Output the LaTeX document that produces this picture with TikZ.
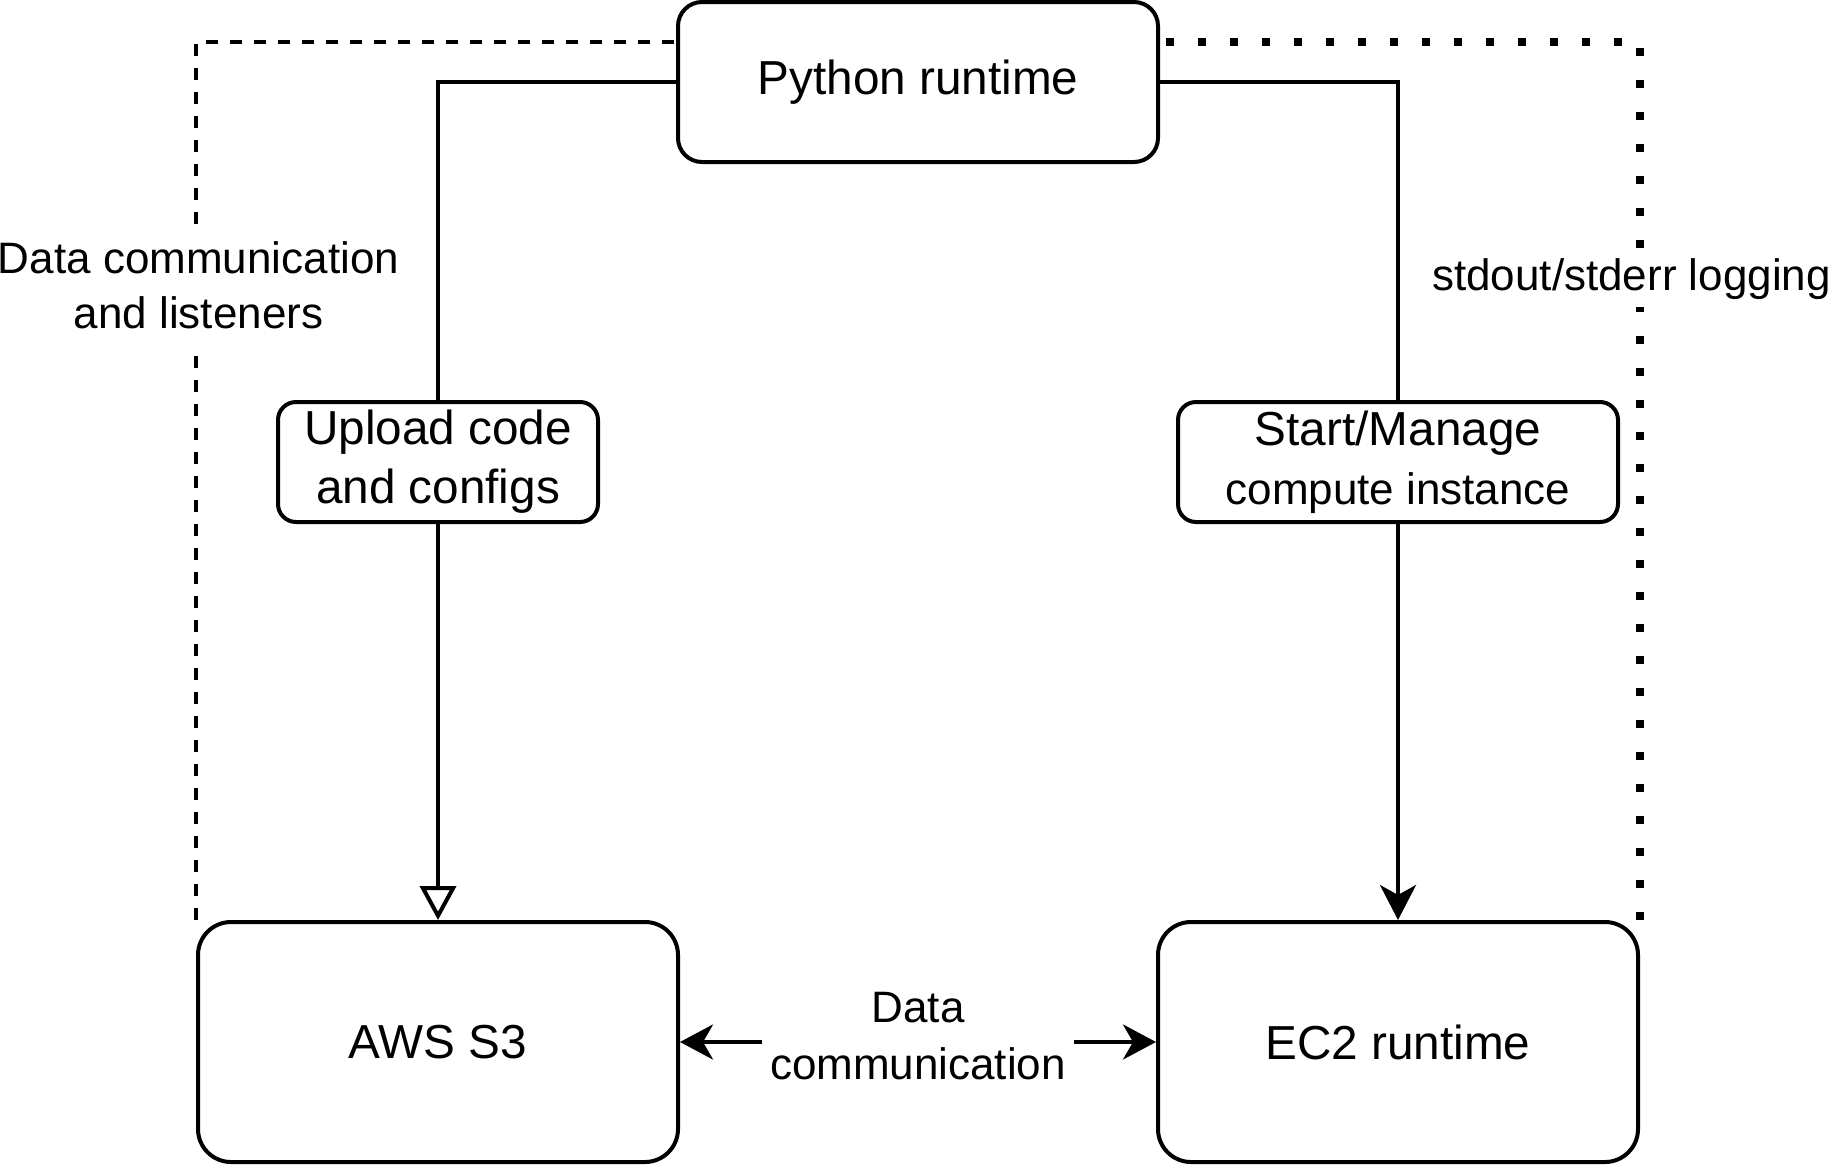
\documentclass[tikz,border=0pt]{standalone}
\usepackage{fontspec}
\setmainfont{Liberation Sans}
\usetikzlibrary{arrows.meta}
\begin{document}
\begin{tikzpicture}[x=1pt,y=-1pt,line width=4pt,
  box/.style={draw,rounded corners=#1,align=center,inner sep=0pt},
  mainfont/.style={font=\fontsize{47.7}{59}\selectfont},
  dashline/.style={dash pattern=on 12pt off 12pt,dash phase=22pt},
  dotline/.style={line width=8pt,dash pattern=on 8pt off 24pt,dash phase=26pt},
  openarrow/.style={-{Triangle[open,length=34pt,width=36pt]}},
  solidarrow/.style={-{Stealth[length=35pt,width=36pt,inset=10pt]}},
  sidearrow/.style={-{Stealth[length=33pt,width=35pt,inset=10pt]}},
  bglabel/.style={fill=white,align=center,inner xsep=4pt}
]
\useasboundingbox (0,0) rectangle (1840,1168);

\node[box=24pt,mainfont,minimum width=480pt,minimum height=160pt] (py) at (918,82) {Python runtime};
\node[box=18pt,mainfont,minimum width=320pt,minimum height=120pt] (up) at (438,462) {Upload code\\and configs};
\node[box=18pt,mainfont,minimum width=440pt,minimum height=120pt] (st) at (1398,462) {Start/Manage\\{\fontsize{44}{61}\selectfont compute instance}};
\node[box=33pt,mainfont,minimum width=480pt,minimum height=240pt] (s3) at (438,1042) {AWS S3};
\node[box=33pt,mainfont,minimum width=480pt,minimum height=240pt] (ec2) at (1398,1042) {EC2 runtime};
\node[align=center,inner xsep=6pt,inner ysep=0pt,font=\fontsize{44}{57}\selectfont] (dc) at (918,1036) {Data\\communication};

% side loops
\draw[dashline] ([yshift=40pt]py.west) -| (s3.north west);
\draw[dotline] ([yshift=40pt]py.east) -| (ec2.north east);

% main connectors
\draw (py.west) -| (up.north);
\draw[openarrow] (up.south) -- (s3.north);
\draw (py.east) -| (st.north);
\draw[solidarrow] (st.south) -- (ec2.north);
\draw[sidearrow] (dc.west |- s3.east) -- (s3.east);
\draw[sidearrow] (dc.east |- ec2.west) -- (ec2.west);

% labels on the side loops
\node[bglabel,inner ysep=17pt,font=\fontsize{44}{55}\selectfont] (lbl) at (198.5,285) {Data communication\\and listeners};
\node[bglabel,inner ysep=7pt,font=\fontsize{44}{52}\selectfont] (log) at (1631.5,279.5) {stdout/stderr logging};
\end{tikzpicture}
\end{document}
